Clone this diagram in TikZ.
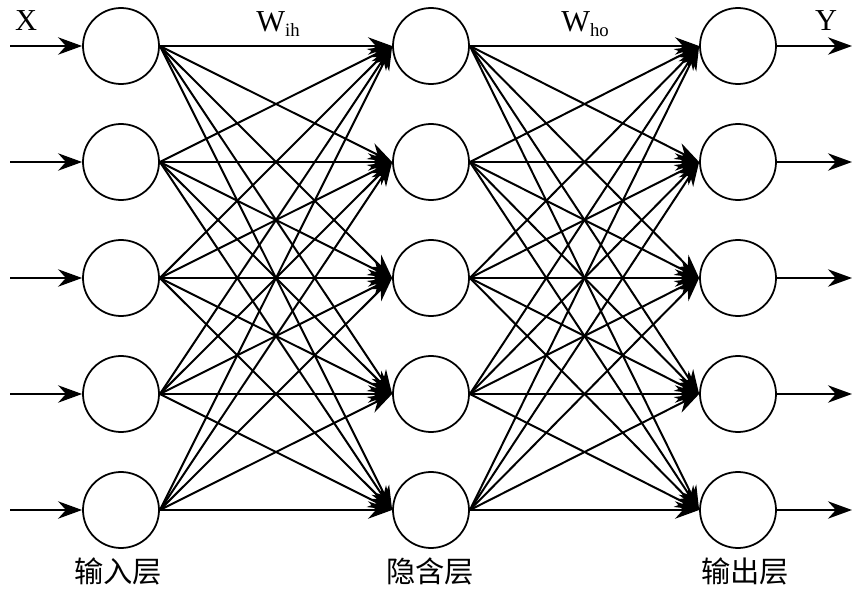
\documentclass[tikz,border=0pt]{standalone}
\usepackage{fontspec}
\setmainfont{Liberation Serif}
\newfontfamily\cjk{Noto Sans CJK SC}
\usetikzlibrary{arrows.meta}
\tikzset{
  neuron/.style={
    draw=black,
    circle,
    line width=1.5pt,
    minimum size=2.28cm,
    inner sep=0pt
  },
  linkarrow/.style={
    -{Stealth[length=7.2mm,width=5.2mm]},
    line width=1.7pt
  },
  letterlabel/.style={
    font=\fontsize{26}{28}\selectfont
  },
  layerlabel/.style={
    font=\cjk\fontsize{25}{28}\selectfont
  }
}
\newcommand{\wsub}[1]{W\raisebox{-0.35ex}{\fontsize{16}{16}\selectfont #1}}

\begin{document}
\begin{tikzpicture}[x=0.03cm,y=-0.03cm]
  \useasboundingbox (0,0) rectangle (860,592);
  % three layers of neurons
  \foreach \k in {1,...,5}{
    \node[neuron] (in\k) at (121,{46+116*(\k-1)}) {};
    \node[neuron] (hid\k) at (431,{46+116*(\k-1)}) {};
    \node[neuron] (out\k) at (738,{46+116*(\k-1)}) {};
    \coordinate (src\k) at (10,{46+116*(\k-1)});
    \coordinate (dst\k) at (852,{46+116*(\k-1)});
  }
  % inputs and outputs
  \foreach \k in {1,...,5}{
    \draw[linkarrow] (src\k) -- (in\k.west);
    \draw[linkarrow] (out\k.east) -- (dst\k);
  }
  % full connections
  \foreach \a in {1,...,5}{
    \foreach \b in {1,...,5}{
      \draw[linkarrow] (in\a.east) -- (hid\b.west);
      \draw[linkarrow] (hid\a.east) -- (out\b.west);
    }
  }
  \node[letterlabel] (xlab) at (26,21) {X};
  \node[letterlabel] (ylab) at (826,21) {Y};
  \node[letterlabel] (wih) at (278,24) {\wsub{ih}};
  \node[letterlabel] (who) at (585,24) {\wsub{ho}};
  \node[layerlabel] (inlab) at (118,571) {输入层};
  \node[layerlabel] (hidlab) at (430,571) {隐含层};
  \node[layerlabel] (outlab) at (745,571) {输出层};
\end{tikzpicture}
\end{document}
